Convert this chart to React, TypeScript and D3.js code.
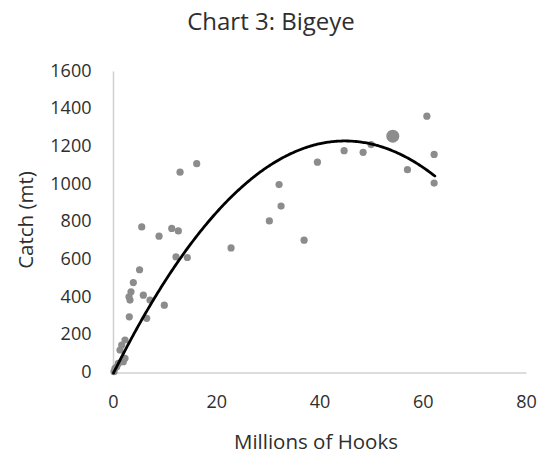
import React from "react";
import * as d3 from "d3";

// Bigeye catch versus longline effort
const hooks = [
  0.1, 0.29, 0.62, 0.93, 1.9, 2.23, 1.26, 1.59, 2.23, 3.06, 3.0, 3.2, 3.39, 3.84,
  5.05, 5.47, 5.78, 6.43, 7.07, 8.82, 9.84, 11.28, 12.56, 12.11, 14.3, 12.89,
  16.12, 22.77, 30.19, 32.07, 32.46, 36.92, 39.5, 44.67, 48.35, 49.9, 56.94,
  60.7, 62.11, 62.11,
];
const catchMt = [
  7, 25, 33, 51, 60, 78, 122, 148, 175, 298, 404, 387, 431, 480, 548, 775, 413,
  290, 387, 726, 360, 767, 754, 616, 613, 1066, 1111, 664, 807, 1000, 886, 705,
  1119, 1180, 1171, 1212, 1079, 1363, 1160, 1008,
];

// Most recent year, drawn larger
const latestHooks = [54.1];
const latestCatch = [1257];

// Second-order polynomial trend (through the origin)
const trendLinear = 54.94;
const trendQuadratic = -0.6128;
const trendMaxHooks = 62.3;

const xTicks = [0, 20, 40, 60, 80];
const yTicks = [0, 200, 400, 600, 800, 1000, 1200, 1400, 1600];

const W = 546;
const H = 454;
const FONT = "'Open Sans', sans-serif";
const TEXT = "#2e2e2e";

export default function App() {
  const x = d3.scaleLinear().domain([0, 80]).range([113.5, 526.5]);
  const y = d3.scaleLinear().domain([0, 1600]).range([373, 71.5]);

  const trendPts: [number, number][] = d3
    .range(0, trendMaxHooks + 0.001, 0.25)
    .map((h) => [h, trendLinear * h + trendQuadratic * h * h]);
  const line = d3
    .line<[number, number]>()
    .x((d) => x(d[0]))
    .y((d) => y(d[1]))
    .curve(d3.curveMonotoneX);

  return (
    <svg
      width={W}
      height={H}
      style={{ position: "absolute", left: 0, top: 0, background: "#fff" }}
      fontFamily={FONT}
    >
      <rect width={W} height={H} fill="#fff" />
      <text x={271} y={30} textAnchor="middle" fontSize={24} fill={TEXT}>
        Chart 3: Bigeye
      </text>

      {/* axes */}
      <line x1={x(0)} x2={x(0)} y1={y(1600)} y2={y(0)} stroke="#d0d0d0" strokeWidth={1.5} />
      <line x1={x(0)} x2={x(80)} y1={y(0)} y2={y(0)} stroke="#d0d0d0" strokeWidth={1.5} />

      {yTicks.map((t) => (
        <text
          key={t}
          x={91.5}
          y={y(t) - 2}
          textAnchor="end"
          dominantBaseline="central"
          fontSize={18}
          fill={TEXT}
        >
          {t}
        </text>
      ))}
      {xTicks.map((t) => (
        <text key={t} x={x(t)} y={408} textAnchor="middle" fontSize={18} fill={TEXT}>
          {t}
        </text>
      ))}

      <text x={316} y={449} textAnchor="middle" fontSize={20.5} fill={TEXT}>
        Millions of Hooks
      </text>
      <text
        transform="translate(33,220) rotate(-90)"
        textAnchor="middle"
        fontSize={20.5}
        fill={TEXT}
      >
        Catch (mt)
      </text>

      {/* observations */}
      {hooks.map((h, i) => (
        <circle key={i} cx={x(h)} cy={y(catchMt[i])} r={3.6} fill="#8c8c8c" />
      ))}
      {latestHooks.map((h, i) => (
        <circle key={"l" + i} cx={x(h)} cy={y(latestCatch[i])} r={6.5} fill="#8c8c8c" />
      ))}

      {/* trend */}
      <path d={line(trendPts) ?? ""} fill="none" stroke="#000" strokeWidth={2.8} strokeLinecap="round" />
    </svg>
  );
}
